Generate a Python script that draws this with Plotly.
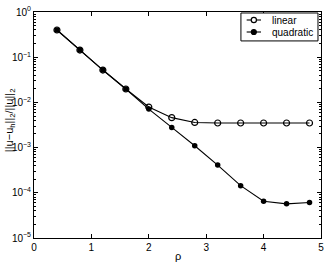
import plotly.graph_objects as go

rho = [0.4, 0.8, 1.2, 1.6, 2.0, 2.4, 2.8, 3.2, 3.6, 4.0, 4.4, 4.8]
err_linear = [0.40, 0.144, 0.052, 0.0198, 0.0079, 0.0046, 0.0036, 0.0035, 0.0035, 0.0035, 0.0035, 0.0035]
err_quadratic = [0.40, 0.144, 0.052, 0.0198, 0.0071, 0.0028, 0.0011, 0.00041, 0.000144, 0.000065, 0.000057, 0.000061]
ytick_vals = [1e-5, 1e-4, 1e-3, 1e-2, 1e-1, 1]
ytick_text = ["10<sup>−5</sup>", "10<sup>−4</sup>", "10<sup>−3</sup>", "10<sup>−2</sup>", "10<sup>−1</sup>", "10<sup>0</sup>"]
xtick_vals = [0, 1, 2, 3, 4, 5]
series_names = ["linear", "quadratic"]

minor_vals = [m * d for d in ytick_vals[:-1] for m in range(2, 10)]

FONT = "Liberation Sans, Arial, Helvetica, sans-serif"

fig = go.Figure()
fig.add_trace(go.Scatter(
    x=rho, y=err_linear, name=series_names[0], mode="lines+markers",
    line=dict(color="black", width=1.1),
    marker=dict(symbol="circle-open", size=6, color="black", line=dict(width=1.2)),
))
fig.add_trace(go.Scatter(
    x=rho, y=err_quadratic, name=series_names[1], mode="lines+markers",
    line=dict(color="black", width=1.1),
    marker=dict(symbol="circle", size=5.5, color="black"),
))

axis_common = dict(
    showline=True, linecolor="black", linewidth=1, mirror="ticks",
    ticks="inside", ticklen=4, tickcolor="black", showgrid=False, zeroline=False,
    automargin=False,
    tickfont=dict(family=FONT, size=10, color="black"),
)

fig.update_xaxes(range=[0, 5], tickvals=xtick_vals, **axis_common)
fig.update_yaxes(type="log", range=[-5, 0], tickvals=ytick_vals, ticktext=ytick_text,
                 minor=dict(tickvals=minor_vals, ticks="inside", ticklen=2, tickcolor="black", showgrid=False),
                 **axis_common)

# axis titles
fig.add_annotation(text="ρ", xref="paper", yref="paper", x=0.5, y=-0.08, yanchor="middle",
                   showarrow=False, font=dict(family=FONT, size=11, color="black"))
fig.add_annotation(text="||u−u<sub>h</sub>||<sub>2</sub>/||u||<sub>2</sub>", xref="paper", yref="paper",
                   x=-0.05, y=0.52, xanchor="right", textangle=-90,
                   showarrow=False, font=dict(family=FONT, size=11, color="black"))

# custom compact legend (MATLAB style)
lx0, lx1, ly0, ly1 = 0.721, 0.9895, 0.872, 0.9956
fig.add_shape(type="rect", xref="paper", yref="paper", x0=lx0, x1=lx1, y0=ly0, y1=ly1,
              line=dict(color="black", width=1), fillcolor="white", layer="above")
rows_y = [0.9646, 0.9115]
seg_x0, seg_x1 = 0.741, 0.791
mx = (seg_x0 + seg_x1) / 2
for i, name in enumerate(series_names):
    yy = rows_y[i]
    fig.add_shape(type="line", xref="paper", yref="paper", x0=seg_x0, x1=seg_x1, y0=yy, y1=yy,
                  line=dict(color="black", width=1.1), layer="above")
    filled = (i == 1)
    r = 2.6 if not filled else 2.5
    fig.add_shape(type="circle", xref="paper", yref="paper", xsizemode="pixel", ysizemode="pixel",
                  xanchor=mx, yanchor=yy, x0=-r, x1=r, y0=-r, y1=r,
                  line=dict(color="black", width=1.2),
                  fillcolor="black" if filled else "white", layer="above")
    fig.add_annotation(text=name, xref="paper", yref="paper", x=0.822, y=yy, xanchor="left",
                       yanchor="middle", showarrow=False,
                       font=dict(family=FONT, size=10, color="black"))

fig.update_layout(
    width=327, height=263,
    margin=dict(l=34, r=6, t=12, b=25),
    plot_bgcolor="white", paper_bgcolor="white",
    showlegend=False,
    hovermode=False,
)

fig.write_html("out.html", config={"displayModeBar": False, "staticPlot": True},
               post_script="document.body.style.margin='0';document.body.style.overflow='hidden';")
